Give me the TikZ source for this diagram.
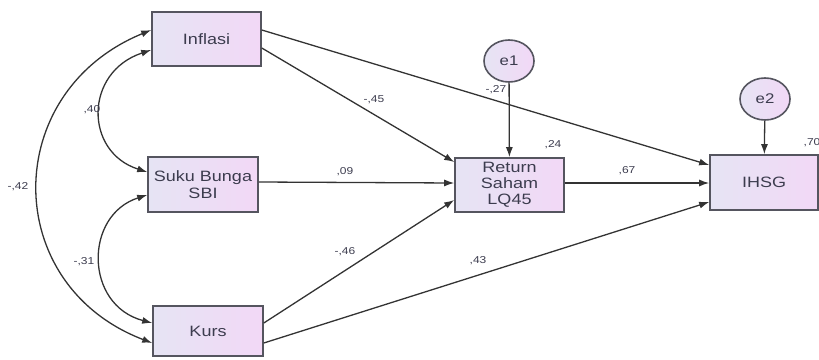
\documentclass[tikz,border=0pt]{standalone}
\usepackage{fontspec}
\setmainfont{Liberation Sans}
\newfontfamily\boxfont[FakeStretch=1.2]{Liberation Sans}
\usetikzlibrary{arrows.meta,shadings,shapes.geometric}
\definecolor{boxleft}{RGB}{230,228,244}
\definecolor{boxright}{RGB}{242,216,246}
\definecolor{edgegray}{RGB}{85,85,95}
\definecolor{txtgray}{RGB}{60,60,78}
\begin{document}
\begin{tikzpicture}[x=1pt,y=-1pt,
    var/.style={draw=edgegray,line width=1.6pt,left color=boxleft,right color=boxright,
        text=txtgray,font=\boxfont\fontsize{15}{17}\selectfont,align=center,inner sep=0pt},
    err/.style={draw=edgegray,line width=1.6pt,ellipse,minimum width=50pt,minimum height=42pt,
        left color=boxleft,right color=boxright,text=txtgray,font=\boxfont\fontsize{14}{16}\selectfont},
    path/.style={draw=black!80,line width=1.3pt,-{Latex[length=10pt,width=7pt]}},
    cov/.style={draw=black!80,line width=1.3pt,{Latex[length=10pt,width=7pt]}-{Latex[length=10pt,width=7pt]}},
    est/.style={text=txtgray,font=\boxfont\fontsize{10}{12}\selectfont,inner sep=0pt}]
            \useasboundingbox (0,0) rectangle (819,359);
            \node[var,minimum width=109pt,minimum height=54pt] (infl) at (206.5,39){Inflasi};
            \node[var,minimum width=110pt,minimum height=55pt] (suku) at (203,184.5){Suku Bunga\\SBI};
            \node[var,minimum width=110pt,minimum height=50pt] (kurs) at (208,331){Kurs};
            \node[var,minimum width=109pt,minimum height=54pt] (ret) at (509.5,185){Return\\[-1pt]Saham\\[-1pt]LQ45};
            \node[var,minimum width=108pt,minimum height=55pt] (ihsg) at (764,182.5){IHSG};
            \node[err] (e1) at (509,61){e1};
            \node[err] (e2) at (765,99){e2};

            % direct effects
            \draw[path] ([yshift=-9pt]infl.east) -- ([yshift=23pt]ret.west);
            \draw[path] ([yshift=9pt]infl.east) -- ([yshift=17.5pt]ihsg.west);
            \draw[path] ([yshift=2.5pt]suku.east) -- ([yshift=2pt]ret.west);
            \draw[path] ([yshift=2pt]ret.east) -- ([yshift=-0.5pt]ihsg.west);
            \draw[path] ([yshift=8pt]kurs.east) -- ([yshift=-15pt]ret.west);
            \draw[path] ([yshift=-12pt]kurs.east) -- ([yshift=-19.5pt]ihsg.west);
            \draw[path] (e1) -- (ret);
            \draw[path] (e2) -- (ihsg);

            % correlations
            \draw[cov] ([yshift=9pt]infl.west) .. controls (0,92) and (0,285) .. ([yshift=-12pt]kurs.west);
            \draw[cov] ([yshift=-11pt]infl.west) .. controls (84,72) and (84,152) .. ([yshift=12.5pt]suku.west);
            \draw[cov] ([yshift=-10.5pt]suku.west) .. controls (84,215) and (84,305) .. ([yshift=8pt]kurs.west);

            % estimates
            \node[est] (c1) at (92,110){,40};
            \node[est] (c2) at (18,187){-,42};
            \node[est] (c3) at (84,262){-,31};
            \node[est] (b1) at (374,100){-,45};
            \node[est] (b2) at (496,90){-,27};
            \node[est] (b3) at (345,172){,09};
            \node[est] (b4) at (627,171){,67};
            \node[est] (b5) at (345,252){-,46};
            \node[est] (b6) at (478,261){,43};
            \node[est] (r1) at (553,145){,24};
            \node[est] (r2) at (812,143){,70};
        \end{tikzpicture}
\end{document}
